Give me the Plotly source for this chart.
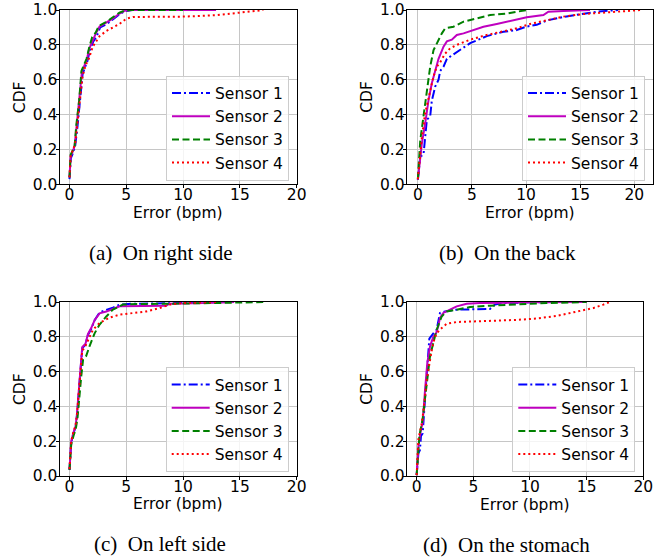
import plotly.graph_objects as go

# ---------------- data ----------------
SENSORS = ["Sensor 1", "Sensor 2", "Sensor 3", "Sensor 4"]
CAPTIONS = ["(a)\u00a0 On right side", "(b)\u00a0 On the back",
            "(c)\u00a0 On left side", "(d)\u00a0 On the stomach"]
X_TICKS = [0, 5, 10, 15, 20]
Y_TICKS = [0.0, 0.2, 0.4, 0.6, 0.8, 1.0]

# (a) right side
RIGHT_S1_ERR = [0, 0.12, 0.25, 0.5, 0.7, 0.9, 1.15, 1.35, 1.55, 1.8, 2.1, 2.4, 2.7, 3.3, 3.9, 4.5, 4.9, 5.5, 11.0]
RIGHT_S1_CDF = [0.03, 0.15, 0.17, 0.22, 0.33, 0.47, 0.63, 0.67, 0.70, 0.77, 0.82, 0.85, 0.90, 0.92, 0.95, 0.98, 0.993, 1.0, 1.0]
RIGHT_S2_ERR = [0, 0.1, 0.3, 0.45, 0.65, 0.85, 1.1, 1.3, 1.5, 1.75, 2.05, 2.35, 2.65, 3.2, 3.8, 4.4, 4.85, 5.6, 12.9]
RIGHT_S2_CDF = [0.04, 0.16, 0.19, 0.22, 0.35, 0.48, 0.65, 0.68, 0.71, 0.78, 0.83, 0.87, 0.905, 0.925, 0.95, 0.98, 0.995, 1.0, 1.0]
RIGHT_S3_ERR = [0, 0.1, 0.25, 0.45, 0.6, 0.85, 1.05, 1.3, 1.5, 1.75, 2.0, 2.3, 2.6, 3.2, 3.8, 4.4, 4.8, 5.4, 10.0]
RIGHT_S3_CDF = [0.04, 0.17, 0.19, 0.22, 0.34, 0.48, 0.65, 0.69, 0.72, 0.79, 0.845, 0.87, 0.91, 0.93, 0.955, 0.985, 0.995, 1.0, 1.0]
RIGHT_S4_ERR = [0, 0.1, 0.3, 0.5, 0.7, 0.9, 1.15, 1.4, 1.7, 2.05, 2.65, 3.25, 3.8, 4.4, 5.0, 5.6, 10.0, 12.9, 15.0, 17.06]
RIGHT_S4_CDF = [0.04, 0.16, 0.2, 0.23, 0.35, 0.47, 0.62, 0.68, 0.72, 0.79, 0.85, 0.88, 0.90, 0.92, 0.95, 0.96, 0.962, 0.97, 0.985, 1.0]

# (b) back
BACK_S1_ERR = [0, 0.22, 0.52, 0.68, 0.83, 1.14, 1.29, 1.6, 1.91, 2.06, 2.37, 2.68, 3.14, 3.91, 4.83, 6.37, 7.91, 9.14, 10.06, 10.98, 11.91, 13.45, 15.29, 16.52, 18.5]
BACK_S1_CDF = [0.025, 0.16, 0.17, 0.29, 0.37, 0.39, 0.48, 0.56, 0.60, 0.65, 0.675, 0.72, 0.74, 0.77, 0.81, 0.85, 0.875, 0.885, 0.905, 0.915, 0.94, 0.96, 0.98, 0.99, 1.0]
BACK_S2_ERR = [0, 0.37, 0.68, 0.98, 1.29, 1.6, 1.91, 2.37, 2.68, 3.14, 3.6, 4.22, 5.14, 6.06, 7.29, 8.83, 10.06, 11.6, 12.06, 13.45, 15.9]
BACK_S2_CDF = [0.025, 0.235, 0.35, 0.48, 0.58, 0.65, 0.72, 0.79, 0.82, 0.83, 0.857, 0.866, 0.885, 0.904, 0.92, 0.94, 0.958, 0.971, 0.99, 0.994, 1.0]
BACK_S3_ERR = [0, 0.22, 0.52, 0.83, 1.14, 1.45, 1.75, 2.22, 2.52, 3.29, 4.22, 5.45, 6.68, 8.22, 9.14, 10.06]
BACK_S3_CDF = [0.03, 0.25, 0.39, 0.54, 0.675, 0.77, 0.81, 0.866, 0.895, 0.904, 0.933, 0.952, 0.971, 0.98, 0.99, 1.0]
BACK_S4_ERR = [0, 0.37, 0.68, 1.14, 1.45, 1.75, 2.06, 2.52, 2.98, 3.6, 4.83, 6.37, 7.91, 9.14, 10.37, 11.91, 13.45, 15.29, 17.14, 18.98, 20.68]
BACK_S4_CDF = [0.03, 0.27, 0.41, 0.54, 0.62, 0.675, 0.70, 0.75, 0.78, 0.80, 0.83, 0.857, 0.876, 0.895, 0.92, 0.943, 0.962, 0.977, 0.985, 0.994, 1.0]

# (c) left side
LEFT_S1_ERR = [0, 0.15, 0.35, 0.53, 0.65, 0.82, 0.97, 1.12, 1.41, 1.62, 1.91, 2.21, 2.65, 3.24, 3.82, 4.41, 5.6, 9.1, 11.0]
LEFT_S1_CDF = [0.035, 0.19, 0.245, 0.28, 0.34, 0.495, 0.59, 0.735, 0.755, 0.81, 0.845, 0.895, 0.94, 0.952, 0.968, 0.985, 0.99, 0.993, 1.0]
LEFT_S2_ERR = [0, 0.15, 0.35, 0.53, 0.65, 0.82, 0.97, 1.12, 1.41, 1.62, 1.91, 2.21, 2.65, 3.24, 3.82, 4.41, 8.5, 8.8, 12.9, 14.5]
LEFT_S2_CDF = [0.035, 0.2, 0.25, 0.285, 0.35, 0.5, 0.6, 0.74, 0.76, 0.815, 0.85, 0.895, 0.935, 0.945, 0.96, 0.975, 0.978, 0.99, 0.995, 1.0]
LEFT_S3_ERR = [0, 0.15, 0.35, 0.55, 0.7, 0.88, 1.03, 1.2, 1.47, 1.76, 2.21, 2.65, 3.24, 3.82, 4.7, 6.0, 9.0, 12.9, 17.06]
LEFT_S3_CDF = [0.035, 0.18, 0.23, 0.27, 0.33, 0.48, 0.57, 0.67, 0.69, 0.745, 0.82, 0.87, 0.917, 0.956, 0.985, 0.988, 0.99, 0.994, 1.0]
LEFT_S4_ERR = [0, 0.15, 0.35, 0.53, 0.65, 0.82, 0.97, 1.12, 1.35, 1.62, 2.06, 2.65, 3.53, 4.41, 5.59, 6.76, 7.94, 8.82, 10.0, 12.9]
LEFT_S4_CDF = [0.04, 0.2, 0.255, 0.29, 0.35, 0.5, 0.6, 0.72, 0.74, 0.78, 0.84, 0.88, 0.91, 0.927, 0.937, 0.946, 0.965, 0.985, 0.994, 1.0]

# (d) stomach
STOMACH_S1_ERR = [0, 0.15, 0.29, 0.38, 0.53, 0.65, 0.79, 0.94, 1.12, 1.47, 1.76, 2.06, 2.5, 3.53, 5.29, 6.47, 6.91, 7.65, 10.0, 12.0]
STOMACH_S1_CDF = [0.005, 0.13, 0.15, 0.23, 0.245, 0.38, 0.495, 0.63, 0.79, 0.82, 0.84, 0.937, 0.946, 0.956, 0.96, 0.96, 0.985, 0.994, 0.998, 1.0]
STOMACH_S2_ERR = [0, 0.15, 0.35, 0.53, 0.74, 0.94, 1.18, 1.47, 1.71, 1.91, 2.06, 2.35, 2.94, 3.53, 4.41, 5.59, 10.0, 15.0]
STOMACH_S2_CDF = [0.005, 0.17, 0.255, 0.31, 0.495, 0.65, 0.745, 0.80, 0.82, 0.86, 0.909, 0.937, 0.956, 0.975, 0.99, 0.994, 0.998, 1.0]
STOMACH_S3_ERR = [0, 0.24, 0.53, 0.88, 1.18, 1.47, 1.76, 2.21, 2.65, 3.53, 4.71, 6.47, 8.53, 11.47, 15.0]
STOMACH_S3_CDF = [0.005, 0.23, 0.33, 0.53, 0.69, 0.765, 0.84, 0.917, 0.946, 0.956, 0.971, 0.979, 0.986, 0.994, 1.0]
STOMACH_S4_ERR = [0, 0.15, 0.44, 0.65, 0.88, 1.12, 1.32, 1.53, 1.76, 2.21, 2.65, 3.53, 5.0, 7.06, 8.82, 10.59, 12.35, 14.12, 15.59, 16.47, 17.06]
STOMACH_S4_CDF = [0.005, 0.21, 0.30, 0.40, 0.55, 0.65, 0.72, 0.78, 0.82, 0.85, 0.875, 0.885, 0.89, 0.893, 0.897, 0.905, 0.92, 0.946, 0.965, 0.985, 1.0]

PANELS = [
    [(RIGHT_S1_ERR, RIGHT_S1_CDF), (RIGHT_S2_ERR, RIGHT_S2_CDF), (RIGHT_S3_ERR, RIGHT_S3_CDF), (RIGHT_S4_ERR, RIGHT_S4_CDF)],
    [(BACK_S1_ERR, BACK_S1_CDF), (BACK_S2_ERR, BACK_S2_CDF), (BACK_S3_ERR, BACK_S3_CDF), (BACK_S4_ERR, BACK_S4_CDF)],
    [(LEFT_S1_ERR, LEFT_S1_CDF), (LEFT_S2_ERR, LEFT_S2_CDF), (LEFT_S3_ERR, LEFT_S3_CDF), (LEFT_S4_ERR, LEFT_S4_CDF)],
    [(STOMACH_S1_ERR, STOMACH_S1_CDF), (STOMACH_S2_ERR, STOMACH_S2_CDF), (STOMACH_S3_ERR, STOMACH_S3_CDF), (STOMACH_S4_ERR, STOMACH_S4_CDF)],
]

# ---------------- styling / layout ----------------
W, H = 669, 559
COLORS = ["#0000ff", "#bf00bf", "#008000", "#ff0000"]
DASHES = ["9px,3px,2px,3px", "solid", "7px,3.5px", "2px,3px"]
SANS = "DejaVu Sans"
SERIF = "Liberation Serif, Times New Roman, serif"
FS = 15.5

# plot-area boxes in pixels: (left, right, top, bottom)
BOXES = [(59.5, 296.7, 10, 184.3), (406.7, 653.3, 10, 184.3),
         (59.5, 296.7, 302, 476), (406.7, 643.3, 302, 476)]
XRANGES = [[-0.88, 20], [-1.03, 21.75], [-0.88, 20], [-0.88, 20]]
LEGEND_RB = [(289, 180.5), (645, 180.5), (288.7, 472), (635.3, 472)]
CDF_X = [20, 366.7, 20, 366.7]
ERR_Y = [212.5, 212.5, 503.5, 504.5]
CAP_X = [160.3, 507, 160, 506]
CAP_Y = [253, 253, 544, 545]

fig = go.Figure()
layout = dict(width=W, height=H, margin=dict(l=0, r=0, t=0, b=0, autoexpand=False),
              paper_bgcolor="white", plot_bgcolor="white", showlegend=True,
              font=dict(family=SANS, size=FS, color="black"))
annotations = []

for i, (panel, box) in enumerate(zip(PANELS, BOXES)):
    n = "" if i == 0 else str(i + 1)
    leg = "legend" + n
    for j, (xs, ys) in enumerate(panel):
        fig.add_trace(go.Scatter(
            x=xs, y=ys, mode="lines", name=SENSORS[j],
            line=dict(color=COLORS[j], width=2, dash=DASHES[j]),
            xaxis="x" + n, yaxis="y" + n, legend=leg))
    l, r, t, b = box
    common = dict(showline=True, linecolor="black", linewidth=1, mirror=True,
                  ticks="outside", ticklen=3, tickcolor="black", tickwidth=1,
                  showgrid=True, gridcolor="#c6c6c6", gridwidth=1, zeroline=False,
                  automargin=False,
                  tickfont=dict(family=SANS, size=FS, color="black"))
    layout["xaxis" + n] = dict(common, domain=[l / W, r / W], anchor="y" + n,
                               range=XRANGES[i], tickvals=X_TICKS,
                               ticktext=[str(v) for v in X_TICKS],
                               ticklabelstandoff=-7)
    layout["yaxis" + n] = dict(common, domain=[1 - b / H, 1 - t / H], anchor="x" + n,
                               range=[0, 1], tickvals=Y_TICKS,
                               ticktext=["%.1f" % v for v in Y_TICKS],
                               ticklabelstandoff=-5)
    lr, lb = LEGEND_RB[i]
    layout[leg] = dict(x=lr / W, y=1 - lb / H, xanchor="right", yanchor="bottom",
                       xref="paper", yref="paper",
                       bgcolor="rgba(255,255,255,0.8)", bordercolor="#cccccc",
                       borderwidth=1, font=dict(family=SANS, size=FS, color="black"),
                       tracegroupgap=0, itemwidth=38)
    annotations.append(dict(text="CDF", x=CDF_X[i] / W, y=1 - (t + b) / 2 / H,
                            xref="paper", yref="paper", showarrow=False, textangle=-90,
                            xanchor="center", yanchor="middle",
                            font=dict(family=SANS, size=FS, color="black")))
    annotations.append(dict(text="Error (bpm)", x=(l + r) / 2 / W, y=1 - ERR_Y[i] / H,
                            xref="paper", yref="paper", showarrow=False,
                            xanchor="center", yanchor="middle",
                            font=dict(family=SANS, size=FS, color="black")))
    annotations.append(dict(text=CAPTIONS[i], x=CAP_X[i] / W, y=1 - CAP_Y[i] / H,
                            xref="paper", yref="paper", showarrow=False,
                            xanchor="center", yanchor="middle",
                            font=dict(family=SERIF, size=21, color="black")))

layout["annotations"] = annotations
fig.update_layout(**layout)
fig.write_html("out.html")
